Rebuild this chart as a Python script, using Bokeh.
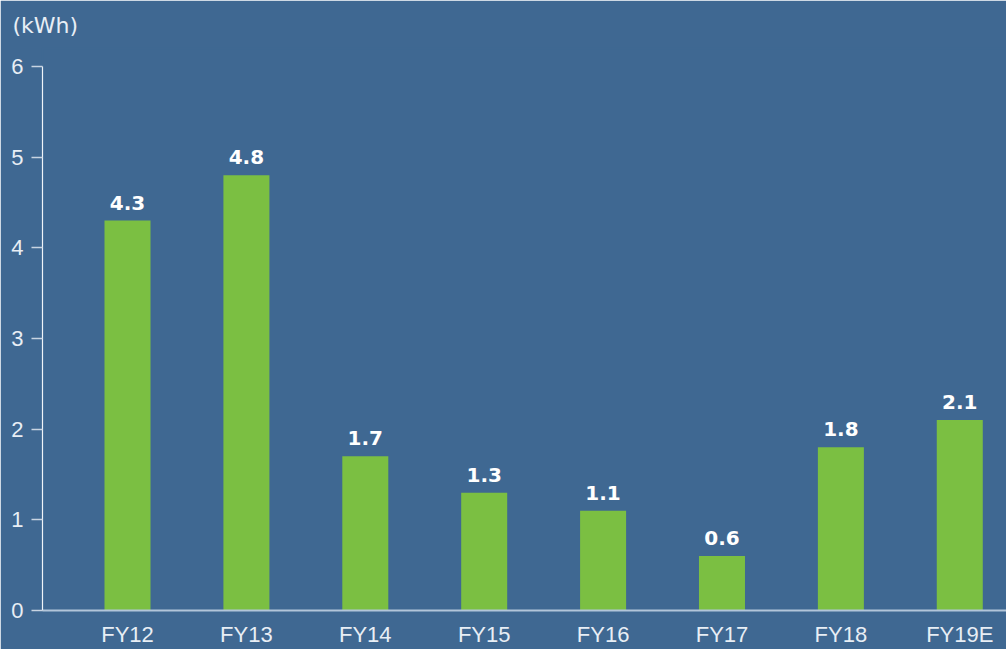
from bokeh.plotting import figure
from bokeh.models import Range1d, FixedTicker, ColumnDataSource, LabelSet
from bokeh.core.properties import value
from bokeh.embed import file_html
from bokeh.resources import INLINE

categories = ["FY12", "FY13", "FY14", "FY15", "FY16", "FY17", "FY18", "FY19E"]
values = [4.3, 4.8, 1.7, 1.3, 1.1, 0.6, 1.8, 2.1]
y_ticks = [0, 1, 2, 3, 4, 5, 6]
unit_label = "(kWh)"

BG = "#3f6892"
BAR = "#7bbf42"
TXT = "#e8eef5"

xs = list(range(len(categories)))
src = ColumnDataSource(dict(x=xs, top=values, lab=[f"{v:.1f}" for v in values]))

TOP = 48
p = figure(width=1006, height=649, output_backend="svg", toolbar_location=None,
           x_range=Range1d(-0.715, 7.393), y_range=Range1d(0, (611 - TOP) / 90.83),
           min_border_left=42, min_border_right=0, min_border_top=TOP, min_border_bottom=38)
p.background_fill_color = BG
p.border_fill_color = BG
p.outline_line_color = BG
p.outline_line_width = 2
p.grid.visible = False

p.title.text = unit_label
p.title.align = "left"
p.title.offset = -30
p.title.text_color = TXT
p.title.text_font = "DejaVu Sans"
p.title.text_font_style = "normal"
p.title.text_font_size = "22px"
p.title.standoff = 21

p.vbar(x="x", top="top", width=0.387, bottom=0, source=src, color=BAR, line_color=None)

labels = LabelSet(x="x", y="top", text="lab", source=src, text_align="center",
                  text_baseline="bottom", y_offset=11, text_color="white",
                  text_font=value("DejaVu Sans"), text_font_style="bold",
                  text_font_size="20px")
p.add_layout(labels)

# x axis
p.xaxis.ticker = FixedTicker(ticks=xs)
p.xaxis.major_label_overrides = {i: c for i, c in enumerate(categories)}
p.xaxis.major_tick_line_color = None
p.xaxis.minor_tick_line_color = None
p.xaxis.axis_line_color = "#b2c5d9"
p.xaxis.axis_line_width = 2
p.xaxis.major_label_text_color = TXT
p.xaxis.major_label_text_font = "Liberation Sans"
p.xaxis.major_label_text_font_size = "22px"
p.xaxis.major_label_standoff = 5

# y axis
p.yaxis.ticker = FixedTicker(ticks=y_ticks)
p.yaxis.bounds = (0, 6)
p.yaxis.axis_line_color = "#f0f4f8"
p.yaxis.axis_line_width = 1.2
p.yaxis.major_tick_line_color = "#c8d4e2"
p.yaxis.major_tick_line_width = 1.5
p.yaxis.major_tick_out = 11
p.yaxis.major_tick_in = 0
p.yaxis.minor_tick_line_color = None
p.yaxis.major_label_text_color = TXT
p.yaxis.major_label_text_font = "Liberation Sans"
p.yaxis.major_label_text_font_size = "22px"
p.yaxis.major_label_standoff = 8

open("out.html", "w").write(file_html(p, INLINE))
